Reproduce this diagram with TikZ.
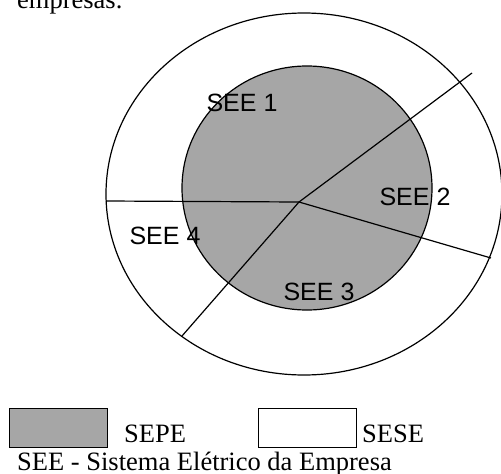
\documentclass[tikz,border=0pt]{standalone}
\usepackage{fontspec}
\setmainfont{Liberation Serif}
\newfontfamily\arialfont{Liberation Sans}
\definecolor{sepegray}{RGB}{166,166,166}
\begin{document}
\begin{tikzpicture}[x=1pt,y=-1pt,
  ring/.style={draw=black,line width=1.2pt},
  divider/.style={draw=black,line width=1.2pt},
  seelabel/.style={font=\arialfont\fontsize{25}{25}\selectfont,inner sep=0pt},
  serif/.style={font=\fontsize{26.5}{26.5}\selectfont,inner sep=0pt},
  legbox/.style={draw=black,line width=0.8pt,minimum width=98pt,minimum height=39pt,inner sep=0pt}]
\useasboundingbox (0,0) rectangle (501,474);
\clip (0,0) rectangle (501,474);
% header text (cut off)
\node[serif,anchor=base west] (hdr) at (17,8) {empresas.};
% outer ring and inner circle
\draw[ring,fill=white] (304,194) ellipse [x radius=198, y radius=181];
\draw[ring,fill=sepegray] (307,188) ellipse [x radius=125, y radius=122];
% dividers
\coordinate (J) at (299,202);
\coordinate (NE) at (472,73);
\coordinate (E) at (491,258);
\coordinate (SW) at (182,336);
\coordinate (W) at (106,201);
\draw[divider] (W) -- (J);
\draw[divider] (J) -- (NE);
\draw[divider] (J) -- (E);
\draw[divider] (J) -- (SW);
% labels
\node[seelabel] (s1) at (242,103) {SEE 1};
\node[seelabel] (s2) at (415,197) {SEE 2};
\node[seelabel] (s3) at (319,292) {SEE 3};
\node[seelabel] (s4) at (165,236) {SEE 4};
% legend
\node[legbox,fill=sepegray] (lg1) at (58,427.5) {};
\node[serif,anchor=base west] (t1) at (124,442) {SEPE};
\node[legbox,fill=white] (lg2) at (307.5,427.5) {};
\node[serif,anchor=base west] (t2) at (362,442) {SESE};
\node[serif,anchor=base west] (cap) at (17,470) {SEE - Sistema Elétrico da Empresa};
\end{tikzpicture}
\end{document}
